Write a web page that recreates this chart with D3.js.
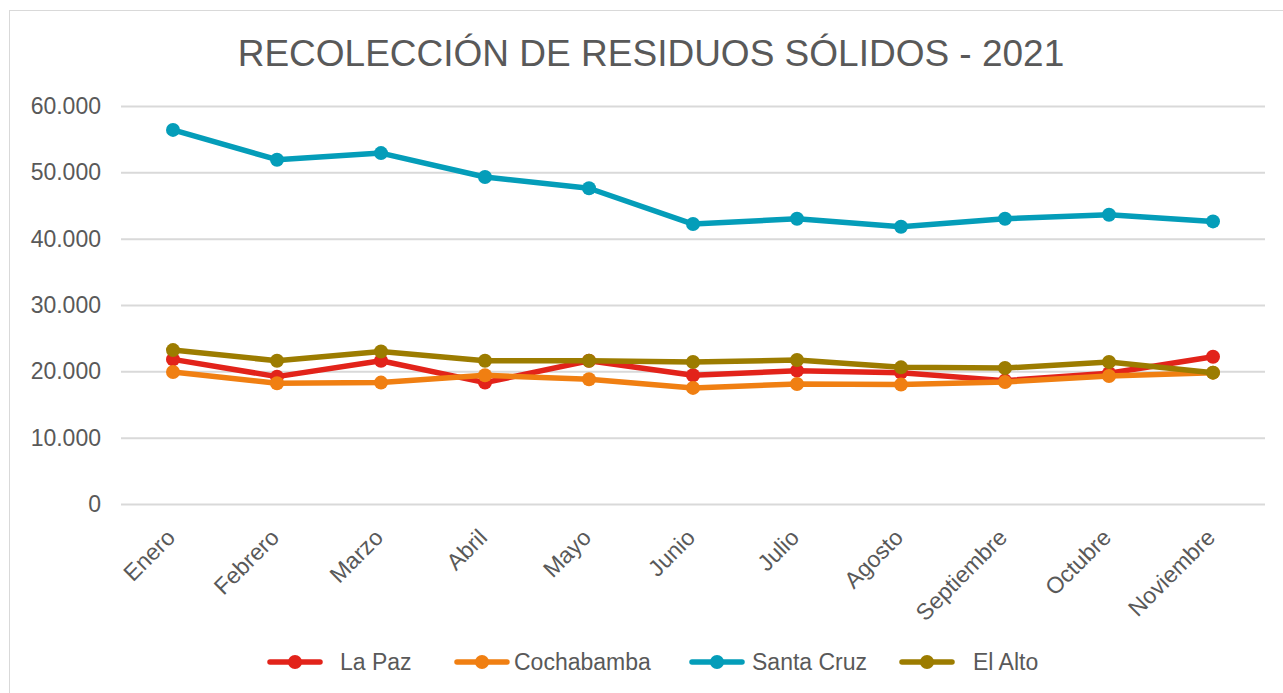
<!DOCTYPE html>
<html>
<head>
<meta charset="utf-8">
<script src="https://cdn.jsdelivr.net/npm/d3@7"></script>
<style>
  body { margin: 0; background: #fff; }
  text { font-family: "Liberation Sans", Arial, sans-serif; fill: #595959; }
</style>
</head>
<body>
<div id="chart"></div>
<script>
// data
const months = ["Enero", "Febrero", "Marzo", "Abril", "Mayo", "Junio", "Julio", "Agosto", "Septiembre", "Octubre", "Noviembre"]
const seriesNames = ["La Paz", "Cochabamba", "Santa Cruz", "El Alto"]
const laPaz      = [21800, 19200, 21600, 18300, 21600, 19400, 20100, 19800, 18600, 19700, 22200]
const cochabamba = [19900, 18200, 18300, 19400, 18800, 17500, 18100, 18000, 18400, 19300, 19800]
const santaCruz  = [56400, 51900, 52900, 49300, 47600, 42200, 43000, 41800, 43000, 43600, 42600]
const elAlto     = [23200, 21600, 23000, 21600, 21600, 21400, 21700, 20600, 20500, 21400, 19800]
const yTicks = [0, 10000, 20000, 30000, 40000, 50000, 60000]
const colors = ["#E2231A", "#F07F12", "#049DB9", "#9C7C00"]

const W = 1283, H = 693
const margin = {top: 106, right: 18, bottom: 189, left: 121}
const width = W - margin.left - margin.right
const height = H - margin.top - margin.bottom

const svg = d3.select("#chart").append("svg")
  .attr("width", W)
  .attr("height", H)

// chart frame
svg.append("rect")
  .attr("x", 9.5).attr("y", 10.5)
  .attr("width", W).attr("height", H)
  .attr("fill", "none")
  .attr("stroke", "#d9d9d9")

svg.append("text")
  .attr("x", 651).attr("y", 66)
  .attr("text-anchor", "middle")
  .style("font-size", "37px")
  .text("RECOLECCIÓN DE RESIDUOS SÓLIDOS - 2021")

const g = svg.append("g")
  .attr("transform", "translate(" + margin.left + "," + margin.top + ")")

const x = d3.scalePoint()
  .domain(months)
  .range([0, width])
  .padding(0.5)

const y = d3.scaleLinear()
  .domain([0, 60000])
  .range([height, 0])

const fmt = d => d === 0 ? "0" : d3.format(",")(d).replace(/,/g, ".")

// grid lines + y axis
g.append("g")
  .call(d3.axisLeft(y).tickValues(yTicks).tickSize(-width).tickFormat(fmt).tickPadding(20))
  .call(a => a.select(".domain").remove())
  .call(a => a.selectAll("line").attr("stroke", "#d9d9d9").attr("stroke-width", 2))
  .call(a => a.selectAll("text").style("font-size", "23px").attr("fill", "#595959"))

// x axis labels
g.append("g")
  .attr("transform", "translate(0," + height + ")")
  .call(d3.axisBottom(x).tickSize(0).tickPadding(0))
  .call(a => a.select(".domain").remove())
  .call(a => a.selectAll("text")
    .style("font-size", "23px")
    .attr("fill", "#595959")
    .attr("text-anchor", "end")
    .attr("y", 0)
    .attr("dy", null)
    .attr("transform", "translate(3,35) rotate(-45)"))

const allSeries = [laPaz, cochabamba, santaCruz, elAlto].map((vals, i) => ({
  name: seriesNames[i], color: colors[i], values: vals
}))

const line = d3.line()
  .x((d, i) => x(months[i]))
  .y(d => y(d))

const sg = g.selectAll(".series")
  .data(allSeries)
  .enter().append("g")
    .attr("class", "series")

sg.append("path")
  .attr("d", d => line(d.values))
  .attr("fill", "none")
  .attr("stroke", d => d.color)
  .attr("stroke-width", 5.5)
  .attr("stroke-linejoin", "round")

sg.selectAll("circle")
  .data(d => d.values.map(v => ({v: v, color: d.color})))
  .enter().append("circle")
    .attr("cx", (d, i) => x(months[i]))
    .attr("cy", d => y(d.v))
    .attr("r", 7)
    .attr("fill", d => d.color)

// legend
const legendX = [268, 455, 690, 900]
const legendTextGap = [72, 59, 62, 73]
const legend = svg.selectAll(".legend")
  .data(allSeries)
  .enter().append("g")
    .attr("class", "legend")
    .attr("transform", (d, i) => "translate(" + legendX[i] + ",662)")

legend.append("line")
  .attr("x1", 2).attr("x2", 52)
  .attr("stroke", d => d.color)
  .attr("stroke-width", 5.5)
  .attr("stroke-linecap", "round")

legend.append("circle")
  .attr("cx", 27).attr("r", 7)
  .attr("fill", d => d.color)

legend.append("text")
  .attr("x", (d, i) => legendTextGap[i])
  .attr("y", 8)
  .style("font-size", "23px")
  .text(d => d.name)
</script>
</body>
</html>
